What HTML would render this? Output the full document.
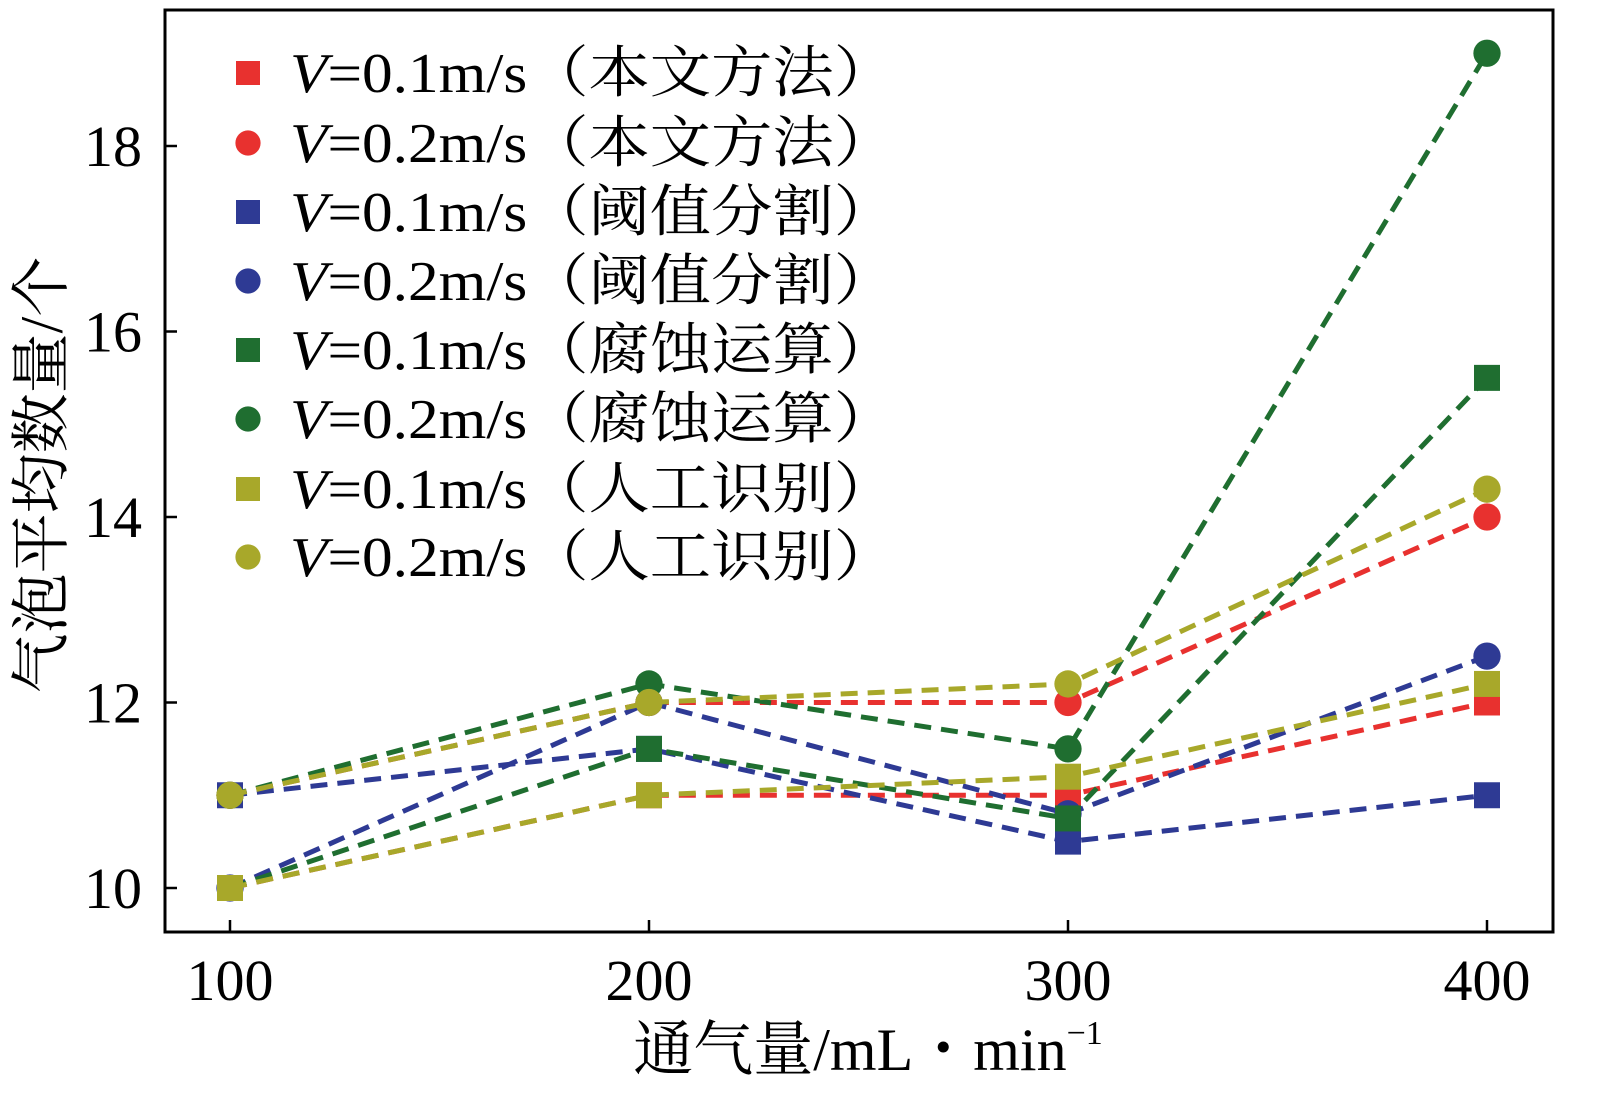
<!DOCTYPE html>
<html><head><meta charset="utf-8"><style>
body{margin:0;background:#fff}
svg text{font-family:"Liberation Serif","Noto Serif CJK SC",serif}
</style></head><body>
<svg id="c" width="1598" height="1103" viewBox="0 0 1598 1103" xmlns="http://www.w3.org/2000/svg"></svg>
<script>
const categories=[100,200,300,400];
const yTicks=[10,12,14,16,18];
const seriesLabels=["本文方法","本文方法","阈值分割","阈值分割","腐蚀运算","腐蚀运算","人工识别","人工识别"];
const seriesSpeeds=["0.1","0.2","0.1","0.2","0.1","0.2","0.1","0.2"];
const seriesShapes=["square","circle","square","circle","square","circle","square","circle"];
const seriesColors=["#e8312f","#e8312f","#2e3a94","#2e3a94","#1f6e30","#1f6e30","#a8a82a","#a8a82a"];
const redSq=[10,11,11,12];
const redCi=[11,12,12,14];
const blueSq=[11,11.5,10.5,11];
const blueCi=[10,12,10.8,12.5];
const greenSq=[10,11.5,10.75,15.5];
const greenCi=[11,12.2,11.5,19];
const yellowSq=[10,11,11.2,12.2];
const yellowCi=[11,12,12.2,14.3];
const seriesValues=[redSq,redCi,blueSq,blueCi,greenSq,greenCi,yellowSq,yellowCi];

const NS="http://www.w3.org/2000/svg";
const svg=document.getElementById('c');
const L=165,R=1553,T=10,B=932;
const xS=v=>230+(v-100)*(1487-230)/300;
const yS=v=>888-(v-10)*(888-146)/8;
function mk(tag,attrs,parent){const e=document.createElementNS(NS,tag);for(const k in attrs)e.setAttribute(k,attrs[k]);(parent||svg).appendChild(e);return e;}

const frame=mk('rect',{x:L,y:T,width:R-L,height:B-T,fill:'none',stroke:'#000','stroke-width':3});



categories.forEach(c=>{
  const t=mk('line',{x1:xS(c),x2:xS(c),y1:B,y2:B-12,stroke:'#000','stroke-width':2.5});
  
  
  const tx=mk('text',{x:xS(c),y:1000,'font-size':58,'text-anchor':'middle'});
  tx.textContent=c;
  
  
});
yTicks.forEach(v=>{
  const t=mk('line',{x1:L,x2:L+12,y1:yS(v),y2:yS(v),stroke:'#000','stroke-width':2.5});
  
  
  const tx=mk('text',{x:142,y:yS(v)+20,'font-size':58,'text-anchor':'end'});
  tx.textContent=v;
  
  
});

function marker(shape,x,y,color,size){
  let m;
  if(shape==='square') m=mk('rect',{x:x-size,y:y-size,width:size*2,height:size*2,fill:color});
  else m=mk('circle',{cx:x,cy:y,r:size*1.05,fill:color});
  return m;
}

seriesValues.forEach((vals,i)=>{
  const g=mk('g',{});
  
  
  const pts=vals.map((v,j)=>xS(categories[j])+','+yS(v)).join(' ');
  const pl=mk('polyline',{points:pts,fill:'none',stroke:seriesColors[i],'stroke-width':5,'stroke-dasharray':'17,10'},g);
  
  
  vals.forEach((v,j)=>{
    const m=marker(seriesShapes[i],xS(categories[j]),yS(v),seriesColors[i],13);
    g.appendChild(m);
    
    
  });
});

const legendY=[73,143,212,281,350,419,489,557];
seriesValues.forEach((_,i)=>{
  const g=mk('g',{});
  
  
  const m=marker(seriesShapes[i],248,legendY[i],seriesColors[i],12);
  g.appendChild(m);
  
  
  const t=mk('text',{x:290,y:legendY[i]+19,'font-size':56,textLength:605,lengthAdjust:'spacingAndGlyphs'},g);
  t.innerHTML='<tspan font-style="italic">V</tspan>='+seriesSpeeds[i]+'m/s（'+seriesLabels[i]+'）';
  
  
});

const xt=mk('text',{x:868,y:1070,'font-size':60,'text-anchor':'middle'});
xt.innerHTML='通气量/mL・min<tspan font-size="34" dy="-26">−1</tspan>';


const yt=mk('text',{x:0,y:0,'font-size':60,'text-anchor':'middle',transform:'translate(62,475) rotate(-90)'});
yt.textContent='气泡平均数量/个';


</script>
</body></html>
